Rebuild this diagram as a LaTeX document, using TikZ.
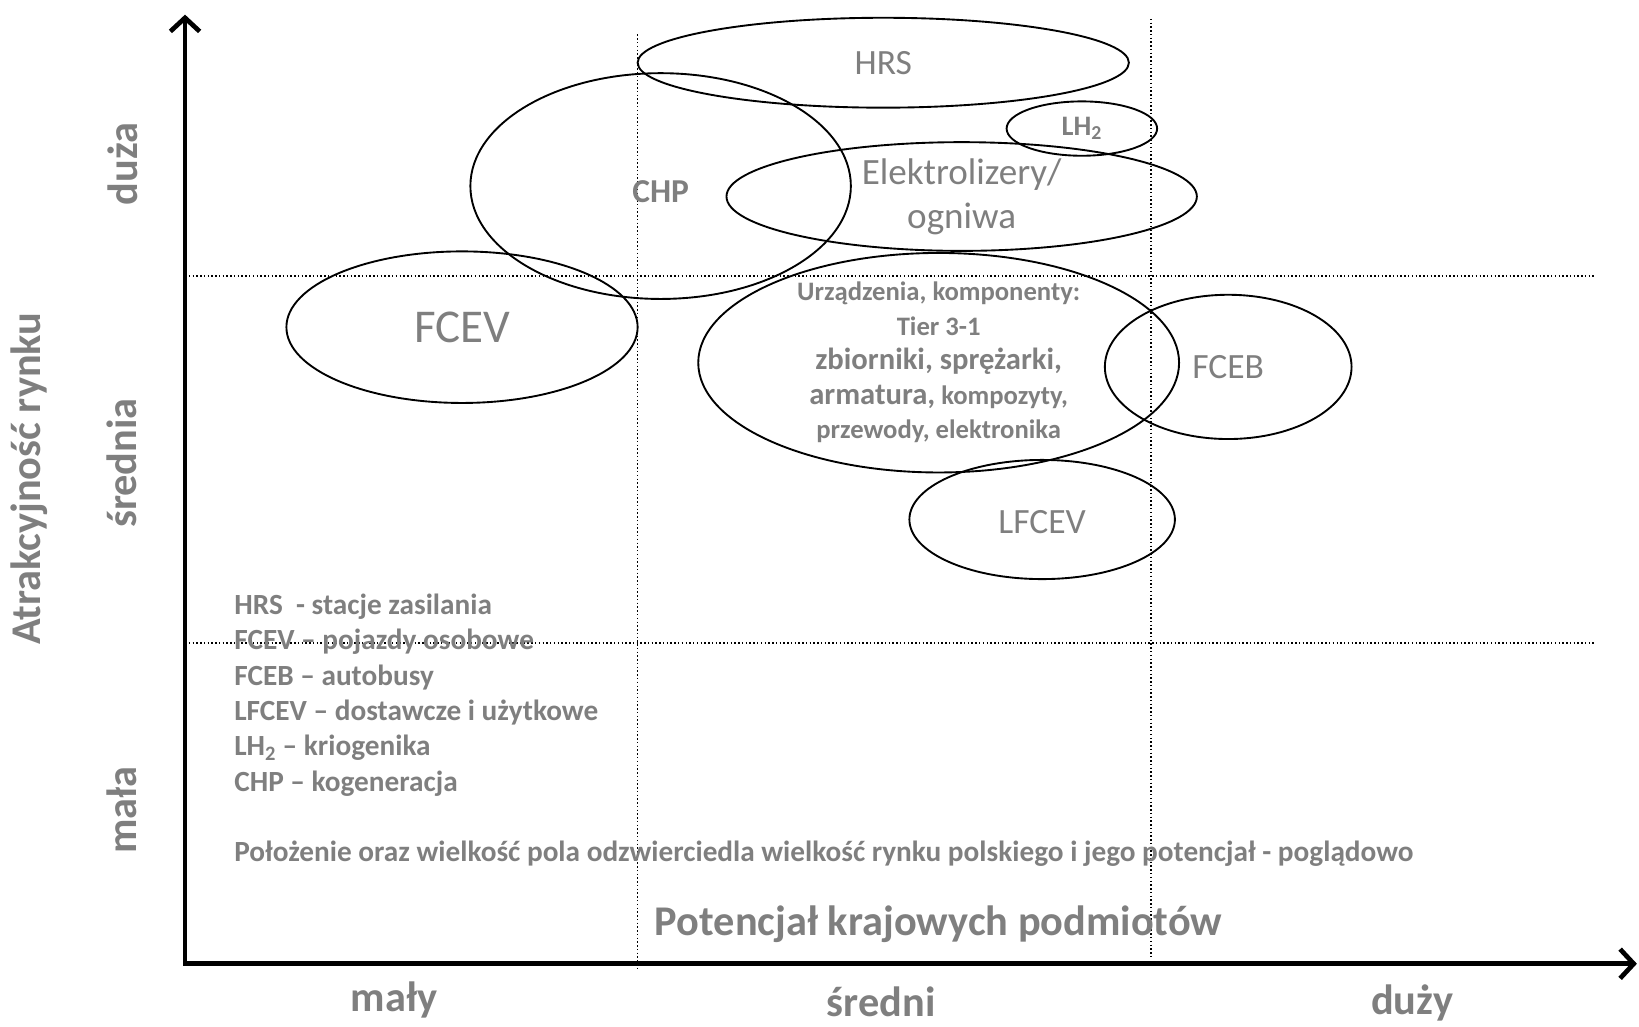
\documentclass[tikz,border=0pt]{standalone}
\usepackage{fontspec}
\setmainfont{Carlito}
\usetikzlibrary{arrows.meta, positioning, shapes.geometric}
\definecolor{txtgray}{RGB}{127,127,127}

\begin{document}
\begin{tikzpicture}[x=1pt, y=-1pt,
  field/.style={ellipse, draw, line width=1.8pt, inner sep=0pt,
                text=txtgray, align=center, font=\fontsize{34}{42}\selectfont},
  bfield/.style={field, font=\bfseries\fontsize{32}{36}\selectfont},
  axis/.style={line width=4.5pt, line join=miter,
               {Straight Barb[length=13pt, width=28pt]}-{Straight Barb[length=13pt, width=28pt]}},
  gridline/.style={line width=1.4pt, dash pattern=on 1.4pt off 2.2pt},
  axlbl/.style={text=txtgray, inner sep=0pt,
                font=\bfseries\fontsize{40.5}{46}\selectfont},
  legend/.style={text=txtgray, inner sep=0pt, align=left,
                 font=\bfseries\fontsize{28}{33.8}\selectfont}
]
\useasboundingbox (0,0) rectangle (1568,982);
% axes
\coordinate (O)    at (177,922);
\coordinate (ytip) at (177,14);
\coordinate (xtip) at (1566,922);
\draw[axis] (ytip) -- (O) -- (xtip);
% grid
\coordinate (h1a) at (177,264);  \coordinate (h1b) at (1525,264);
\coordinate (h2a) at (177,615);  \coordinate (h2b) at (1525,615);
\coordinate (v1a) at (610,33);   \coordinate (v1b) at (610,928);
\coordinate (v2a) at (1101,18);  \coordinate (v2b) at (1101,915);
\draw[gridline] (h1a) -- (h1b);
\draw[gridline] (h2a) -- (h2b);
\draw[gridline] (v1a) -- (v1b);
\draw[gridline] (v2a) -- (v2b);
% fields
\node[field, minimum width=470pt, minimum height=86pt] (HRS) at (845,60) {HRS};
\node[bfield, minimum width=144pt, minimum height=52pt,
      font=\bfseries\fontsize{27}{30}\selectfont] (LH2) at (1035,123)
  {LH\textsubscript{2}};
\node[bfield, minimum width=364pt, minimum height=216pt] (CHP) at (632,178)
  {\raisebox{-16pt}[0pt][0pt]{CHP}};
\node[field, minimum width=450pt, minimum height=104pt,
      font=\fontsize{35.5}{42}\selectfont] (EL) at (920,188)
  {Elektrolizery/\\ogniwa};
\node[field, minimum width=336pt, minimum height=145pt,
      font=\fontsize{45}{50}\selectfont] (FCEV) at (442,313) {FCEV};
\node[field, minimum width=460pt, minimum height=210pt, inner sep=-25pt,
      font=\bfseries\fontsize{25.5}{33}\selectfont] (URZ) at (898,347)
  {Urządzenia, komponenty:\\
   Tier 3-1\\
   {\fontsize{29.3}{34}\selectfont zbiorniki, sprężarki,}\\
   {\fontsize{29.3}{34}\selectfont armatura,} kompozyty,\\
   przewody, elektronika};
\node[field, minimum width=236pt, minimum height=138pt] (FCEB) at (1175,351) {FCEB};
\node[field, minimum width=254pt, minimum height=114pt] (LFCEV) at (997,497)
  {\raisebox{-13pt}[0pt][0pt]{LFCEV}};
% legend
\node[legend, anchor=west] (leg) at (224,665)
  {HRS\ \ - stacje zasilania\\
   FCEV -- pojazdy osobowe\\
   FCEB -- autobusy\\
   LFCEV -- dostawcze i użytkowe\\
   LH\textsubscript{2} -- kriogenika\\
   CHP -- kogeneracja};
\node[legend, anchor=west] (note) at (224,817)
  {Położenie oraz wielkość pola odzwierciedla wielkość rynku polskiego i jego potencjał - poglądowo};
% axis labels
\node[axlbl] (xlab) at (898,884) {Potencjał krajowych podmiotów};
\node[axlbl, anchor=base] (xlo)  at (377,968) {mały};
\node[axlbl, anchor=base] (xmid) at (843,972) {średni};
\node[axlbl, anchor=base] (xhi)  at (1351,971) {duży};
\node[axlbl, rotate=90] (ylab) at (28,458)  {Atrakcyjność rynku};
\node[axlbl, rotate=90] (yhi)  at (117,157) {duża};
\node[axlbl, rotate=90] (ymid) at (117,443) {średnia};
\node[axlbl, rotate=90] (ylo)  at (117,775) {mała};
\end{tikzpicture}
\end{document}
